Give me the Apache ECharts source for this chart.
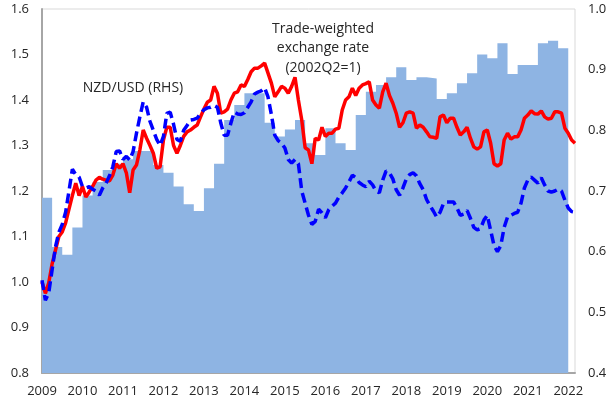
<!DOCTYPE html>
<html>

<head>
    <meta charset="utf-8">
    <script src="https://cdn.jsdelivr.net/npm/echarts@6.0.0/dist/echarts.min.js"></script>
</head>

<body style="margin:0">
    <div id="chart" style="width:610px; height:406px;"></div>
</body>

<script type="text/javascript">
    // first period of the monthly / quarterly series
    var startYear = 2009;

    // terms of trade, quarterly, 2009Q1 .. 2021Q4 (LHS)
    var totQ = [
        1.185, 1.077, 1.06, 1.12,
        1.19, 1.22, 1.246, 1.26,
        1.27, 1.288, 1.288, 1.257,
        1.24, 1.21, 1.171, 1.156,
        1.206, 1.26, 1.356, 1.389,
        1.415, 1.415, 1.35, 1.32,
        1.335, 1.356, 1.305, 1.279,
        1.338, 1.305, 1.29, 1.367,
        1.418, 1.433, 1.45, 1.472,
        1.444, 1.45, 1.447, 1.402,
        1.415, 1.437, 1.459, 1.50,
        1.492, 1.525, 1.457, 1.477,
        1.477, 1.525, 1.53, 1.514
    ];

    // trade-weighted exchange rate, monthly, Jan 2009 .. Mar 2022 (LHS)
    var twi = [
        1.00, 0.975, 0.998, 1.04, 1.07, 1.10, 1.11, 1.13, 1.16, 1.19, 1.217, 1.19,
        1.21, 1.187, 1.198, 1.21, 1.224, 1.23, 1.226, 1.224, 1.222, 1.235, 1.26, 1.25,
        1.26, 1.24, 1.196, 1.246, 1.257, 1.29, 1.334, 1.316, 1.30, 1.283, 1.25, 1.253,
        1.312, 1.34, 1.34, 1.30, 1.283, 1.30, 1.32, 1.33, 1.334, 1.34, 1.345, 1.363,
        1.38, 1.395, 1.40, 1.43, 1.415, 1.371, 1.374, 1.38, 1.40, 1.415, 1.418, 1.433,
        1.43, 1.445, 1.462, 1.47, 1.47, 1.475, 1.481, 1.459, 1.437, 1.407, 1.418, 1.43,
        1.426, 1.415, 1.43, 1.45, 1.40, 1.356, 1.295, 1.29, 1.26, 1.316, 1.312, 1.34,
        1.32, 1.327, 1.327, 1.336, 1.338, 1.378, 1.40, 1.407, 1.426, 1.41, 1.426, 1.433,
        1.436, 1.44, 1.40, 1.389, 1.382, 1.418, 1.437, 1.41, 1.393, 1.371, 1.34, 1.35,
        1.371, 1.374, 1.371, 1.338, 1.345, 1.34, 1.33, 1.319, 1.318, 1.316, 1.363, 1.367,
        1.35, 1.36, 1.36, 1.34, 1.323, 1.33, 1.34, 1.316, 1.297, 1.292, 1.297, 1.33,
        1.334, 1.305, 1.26, 1.255, 1.26, 1.312, 1.327, 1.314, 1.319, 1.319, 1.334, 1.36,
        1.367, 1.376, 1.37, 1.369, 1.376, 1.363, 1.358, 1.36, 1.374, 1.374, 1.371, 1.338,
        1.327, 1.312, 1.305
    ];

    // NZD/USD, monthly, Jan 2009 .. Mar 2022 (RHS)
    var nzdusd = [
        0.553, 0.52, 0.532, 0.57, 0.608, 0.632, 0.645, 0.665, 0.70, 0.736, 0.727, 0.723,
        0.707, 0.705, 0.707, 0.703, 0.70, 0.693, 0.705, 0.713, 0.725, 0.74, 0.765, 0.766,
        0.752, 0.757, 0.751, 0.765, 0.795, 0.822, 0.847, 0.838, 0.815, 0.80, 0.785, 0.775,
        0.79, 0.828, 0.83, 0.81, 0.785, 0.782, 0.80, 0.808, 0.817, 0.818, 0.82, 0.828,
        0.834, 0.837, 0.838, 0.841, 0.838, 0.812, 0.792, 0.792, 0.812, 0.83, 0.827, 0.826,
        0.829, 0.838, 0.847, 0.86, 0.863, 0.865, 0.87, 0.855, 0.826, 0.792, 0.783, 0.779,
        0.771, 0.752, 0.746, 0.752, 0.745, 0.70, 0.68, 0.66, 0.645, 0.65, 0.67, 0.664,
        0.656, 0.669, 0.675, 0.68, 0.69, 0.697, 0.705, 0.715, 0.726, 0.722, 0.714, 0.71,
        0.707, 0.716, 0.71, 0.70, 0.697, 0.718, 0.733, 0.73, 0.72, 0.702, 0.693, 0.705,
        0.72, 0.727, 0.73, 0.725, 0.712, 0.702, 0.686, 0.676, 0.667, 0.657, 0.665, 0.679,
        0.682, 0.682, 0.682, 0.672, 0.66, 0.662, 0.668, 0.655, 0.64, 0.636, 0.638, 0.652,
        0.66, 0.635, 0.61, 0.60, 0.61, 0.64, 0.657, 0.66, 0.663, 0.665, 0.68, 0.705,
        0.718, 0.723, 0.718, 0.713, 0.722, 0.71, 0.70, 0.698, 0.70, 0.703, 0.70, 0.685,
        0.672, 0.666, 0.665
    ];

    var totData = totQ.map(function (v, i) { return [startYear + i / 4, v]; });
    totData.push([startYear + totQ.length / 4, totQ[totQ.length - 1]]);
    var twiData = twi.map(function (v, i) { return [startYear + i / 12, v]; });
    var nzdData = nzdusd.map(function (v, i) { return [startYear + i / 12, v]; });
    var xMax = startYear + (twi.length - 1) / 12;

    var font = '"Open Sans", "Noto Sans", sans-serif';
    var textColor = '#262626';

    var chart = echarts.init(document.getElementById('chart'));

    option = {
        animation: false,
        grid: {
            left: 42,
            right: 35,
            top: 9,
            bottom: 33,
            show: true,
            borderColor: '#d9d9d9',
            borderWidth: 1,
            outerBoundsMode: 'none'
        },
        xAxis: {
            type: 'value',
            min: startYear,
            max: xMax,
            interval: 1,
            splitLine: { show: false },
            axisTick: { show: false },
            axisLine: { show: true, lineStyle: { color: '#a6a6a6', width: 2 } },
            axisLabel: {
                color: textColor,
                fontFamily: font,
                fontSize: 13,
                margin: 12,
                showMaxLabel: false,
                formatter: function (v) {
                    return Math.abs(v - Math.round(v)) < 1e-6 ? String(Math.round(v)) : '';
                }
            }
        },
        yAxis: [
            {
                type: 'value',
                min: 0.8,
                max: 1.6,
                interval: 0.1,
                splitLine: { show: false },
                axisTick: { show: false },
                axisLine: { show: true, lineStyle: { color: '#a6a6a6', width: 2 } },
                axisLabel: {
                    color: textColor,
                    fontFamily: font,
                    fontSize: 13,
                    margin: 13,
                    formatter: function (v) { return v.toFixed(1); }
                }
            },
            {
                type: 'value',
                min: 0.4,
                max: 1.0,
                interval: 0.1,
                splitLine: { show: false },
                axisTick: { show: false },
                axisLine: { show: false },
                axisLabel: {
                    color: textColor,
                    fontFamily: font,
                    fontSize: 13,
                    margin: 13,
                    formatter: function (v) { return v.toFixed(1); }
                }
            }
        ],
        series: [
            {
                name: 'Terms of trade',
                type: 'line',
                step: 'end',
                symbol: 'none',
                lineStyle: { width: 0 },
                areaStyle: { color: '#8eb4e3', opacity: 1, origin: 'start' },
                data: totData
            },
            {
                name: 'Trade-weighted exchange rate',
                type: 'line',
                symbol: 'none',
                lineStyle: { color: '#ff0000', width: 3.5 },
                data: twiData
            },
            {
                name: 'NZD/USD',
                type: 'line',
                yAxisIndex: 1,
                symbol: 'none',
                lineStyle: { color: '#0000ff', width: 3.5, type: [10, 5] },
                data: nzdData
            }
        ],
        graphic: [
            {
                type: 'text', x: 133, y: 88,
                style: {
                    text: 'NZD/USD (RHS)', fill: textColor, font: '14px ' + font,
                    align: 'center', verticalAlign: 'middle'
                }
            },
            {
                type: 'text', x: 323, y: 19,
                style: {
                    text: 'Trade-weighted\nexchange rate\n(2002Q2=1)',
                    fill: textColor, font: '14px ' + font,
                    align: 'center', lineHeight: 19.5
                }
            },
            {
                type: 'text', x: 323, y: 292,
                style: {
                    text: 'Terms of trade (2002Q2=1)', fill: textColor, font: '14px ' + font,
                    align: 'center', verticalAlign: 'middle'
                }
            }
        ]
    };

    chart.setOption(option);
</script>

</html>
